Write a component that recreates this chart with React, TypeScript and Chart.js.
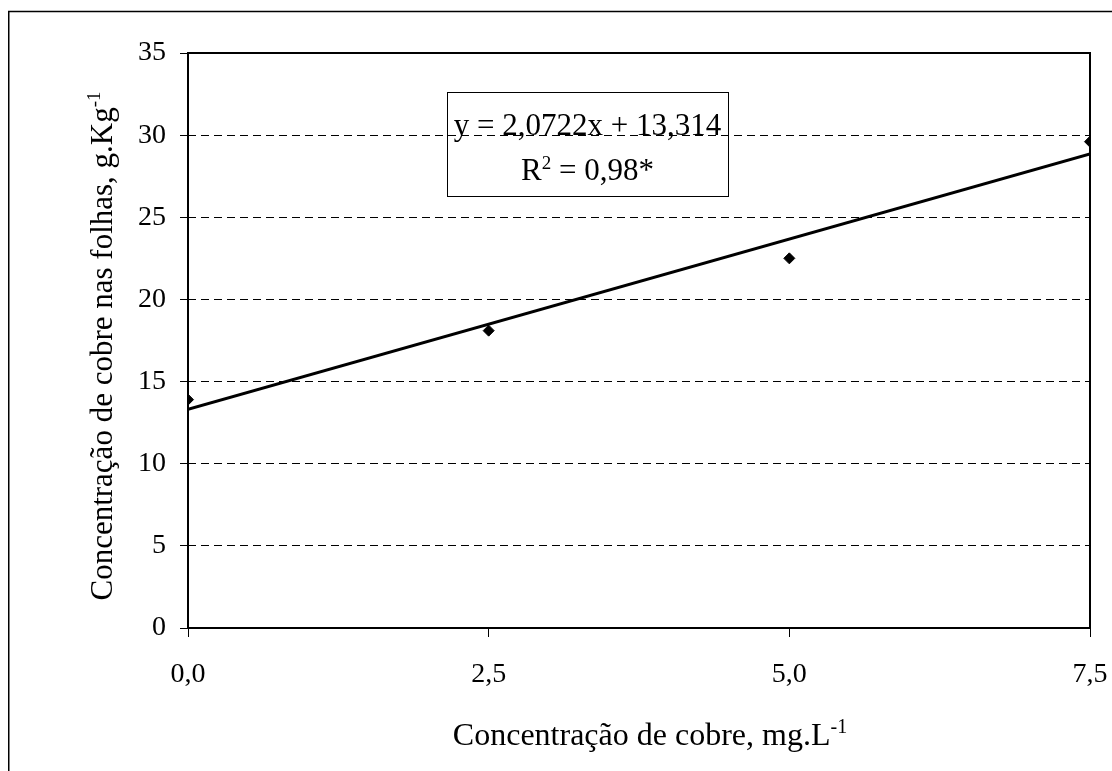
import React, { useEffect, useRef } from "react";
import { Chart, registerables } from "chart.js";

Chart.register(...registerables);

// ---- data ----
const doses = [0, 2.5, 5, 7.5];
const cobreFolhas = [13.9, 18.1, 22.5, 29.6];
const trendX = [0, 7.5];
const trendY = [13.314, 28.856];
const xTickLabels = ["0,0", "2,5", "5,0", "7,5"];
const yTickValues = [0, 5, 10, 15, 20, 25, 30, 35];
const equationText = "y = 2,0722x + 13,314";
const r2Parts = [
  { t: "R", sup: false },
  { t: "2", sup: true },
  { t: " = 0,98*", sup: false },
];
const xTitleParts = [
  { t: "Concentração de cobre, mg.L", sup: false },
  { t: "-1", sup: true },
];
const yTitleParts = [
  { t: "Concentração de cobre nas folhas, g.Kg", sup: false },
  { t: "-1", sup: true },
];

const FONT = "'Liberation Serif', 'Times New Roman', serif";
const TICK_SIZE = 28;
const X_TITLE_SIZE = 32;
const Y_TITLE_SIZE = 31;
const EQ_SIZE = 31;

type Part = { t: string; sup: boolean };

function drawRich(
  ctx: CanvasRenderingContext2D,
  parts: Part[],
  cx: number,
  baseY: number,
  size: number
) {
  const supSize = Math.round(size * 0.62);
  let total = 0;
  const widths = parts.map((p) => {
    ctx.font = `${p.sup ? supSize : size}px ${FONT}`;
    const w = ctx.measureText(p.t).width;
    total += w;
    return w;
  });
  let x = cx - total / 2;
  ctx.textAlign = "left";
  ctx.textBaseline = "alphabetic";
  parts.forEach((p, i) => {
    ctx.font = `${p.sup ? supSize : size}px ${FONT}`;
    ctx.fillText(p.t, x, p.sup ? baseY - size * 0.38 : baseY);
    x += widths[i];
  });
}

const decorPlugin = {
  id: "decor",
  beforeDraw(chart: any) {
    const ctx = chart.ctx as CanvasRenderingContext2D;
    ctx.save();
    ctx.fillStyle = "#ffffff";
    ctx.fillRect(0, 0, chart.width, chart.height);
    ctx.strokeStyle = "#000";
    ctx.lineWidth = 1.5;
    ctx.strokeRect(0.75, 3.5, chart.width + 10, chart.height + 10);
    ctx.restore();
  },
  afterDraw(chart: any) {
    const ctx = chart.ctx as CanvasRenderingContext2D;
    const a = chart.chartArea;
    const xs = chart.scales.x;
    const ys = chart.scales.y;
    ctx.save();
    // plot border
    ctx.strokeStyle = "#000";
    ctx.lineWidth = 2;
    ctx.strokeRect(a.left, a.top, a.right - a.left, a.bottom - a.top);

    ctx.fillStyle = "#000";
    // x title
    drawRich(ctx, xTitleParts, 642, 737, X_TITLE_SIZE);
    // y title
    ctx.save();
    ctx.translate(94, 338);
    ctx.rotate(-Math.PI / 2);
    drawRich(ctx, yTitleParts, 0, 10, Y_TITLE_SIZE);
    ctx.restore();

    // equation box
    const bx = xs.getPixelForValue(2.153);
    const bx2 = xs.getPixelForValue(4.49);
    const by = ys.getPixelForValue(32.6);
    const by2 = ys.getPixelForValue(26.3);
    ctx.strokeStyle = "#000";
    ctx.lineWidth = 1;
    ctx.strokeRect(Math.round(bx) + 0.5, Math.round(by) + 0.5, Math.round(bx2 - bx), Math.round(by2 - by));
    const cx = (bx + bx2) / 2;
    ctx.font = `${EQ_SIZE}px ${FONT}`;
    ctx.textAlign = "center";
    ctx.textBaseline = "alphabetic";
    ctx.fillText(equationText, cx, ys.getPixelForValue(30));
    drawRich(ctx, r2Parts, cx, ys.getPixelForValue(27.25), EQ_SIZE);
    ctx.restore();
  },
};

export default function App() {
  const ref = useRef<HTMLCanvasElement | null>(null);
  useEffect(() => {
    if (!ref.current) return;
    const chart = new Chart(ref.current, {
      type: "scatter",
      data: {
        datasets: [
          {
            type: "line",
            label: "Tendência",
            data: trendX.map((x, i) => ({ x, y: trendY[i] })),
            borderColor: "#000",
            borderWidth: 3,
            pointRadius: 0,
            fill: false,
            order: 2,
          } as any,
          {
            label: "Cobre nas folhas",
            data: doses.map((x, i) => ({ x, y: cobreFolhas[i] })),
            backgroundColor: "#000",
            borderColor: "#000",
            pointStyle: "rectRot",
            pointRadius: 5.5,
            order: 1,
          },
        ],
      },
      options: {
        animation: false,
        responsive: false,
        devicePixelRatio: 1,
        layout: { padding: { left: 0, top: 45, right: 22, bottom: 43 } },
        plugins: {
          legend: { display: false },
          tooltip: { enabled: false },
          title: { display: false },
        },
        scales: {
          x: {
            type: "linear",
            min: 0,
            max: 7.5,
            afterBuildTicks: (scale: any) => {
              scale.ticks = doses.map((v) => ({ value: v }));
            },
            afterFit: (scale: any) => {
              scale.height = 100;
              scale.paddingLeft = 0;
              scale.paddingRight = 0;
            },
            ticks: {
              autoSkip: false,
              maxRotation: 0,
              padding: 21,
              color: "#000",
              font: { family: FONT, size: TICK_SIZE },
              callback: (v: any) => {
                const i = doses.indexOf(Number(v));
                return i >= 0 ? xTickLabels[i] : "";
              },
            },
            grid: {
              drawOnChartArea: false,
              drawTicks: true,
              tickLength: 9,
              tickColor: "#000",
              tickWidth: 1,
            },
            border: { display: false },
          },
          y: {
            type: "linear",
            min: 0,
            max: 35,
            afterBuildTicks: (scale: any) => {
              scale.ticks = yTickValues.map((v) => ({ value: v }));
            },
            afterFit: (scale: any) => {
              scale.width = 180;
              scale.paddingTop = 0;
              scale.paddingBottom = 0;
            },
            ticks: {
              padding: 14,
              color: "#000",
              font: { family: FONT, size: TICK_SIZE },
              callback: (v: any) => String(v),
            },
            grid: {
              color: (c: any) =>
                c.tick && (c.tick.value === 0 || c.tick.value === 35) ? "rgba(0,0,0,0)" : "#000",
              lineWidth: 1,
              tickLength: 8,
              tickColor: "#000",
              tickWidth: 1,
              tickBorderDash: [],
            },
            border: { display: false, dash: [8, 5] },
          },
        },
      },
      plugins: [decorPlugin],
    } as any);
    return () => chart.destroy();
  }, []);
  return (
    <div style={{ position: "fixed", left: 8, top: 8, width: 1104, height: 763, overflow: "hidden" }}>
      <canvas ref={ref} width={1104} height={763} style={{ display: "block", width: 1104, height: 763 }} />
    </div>
  );
}
